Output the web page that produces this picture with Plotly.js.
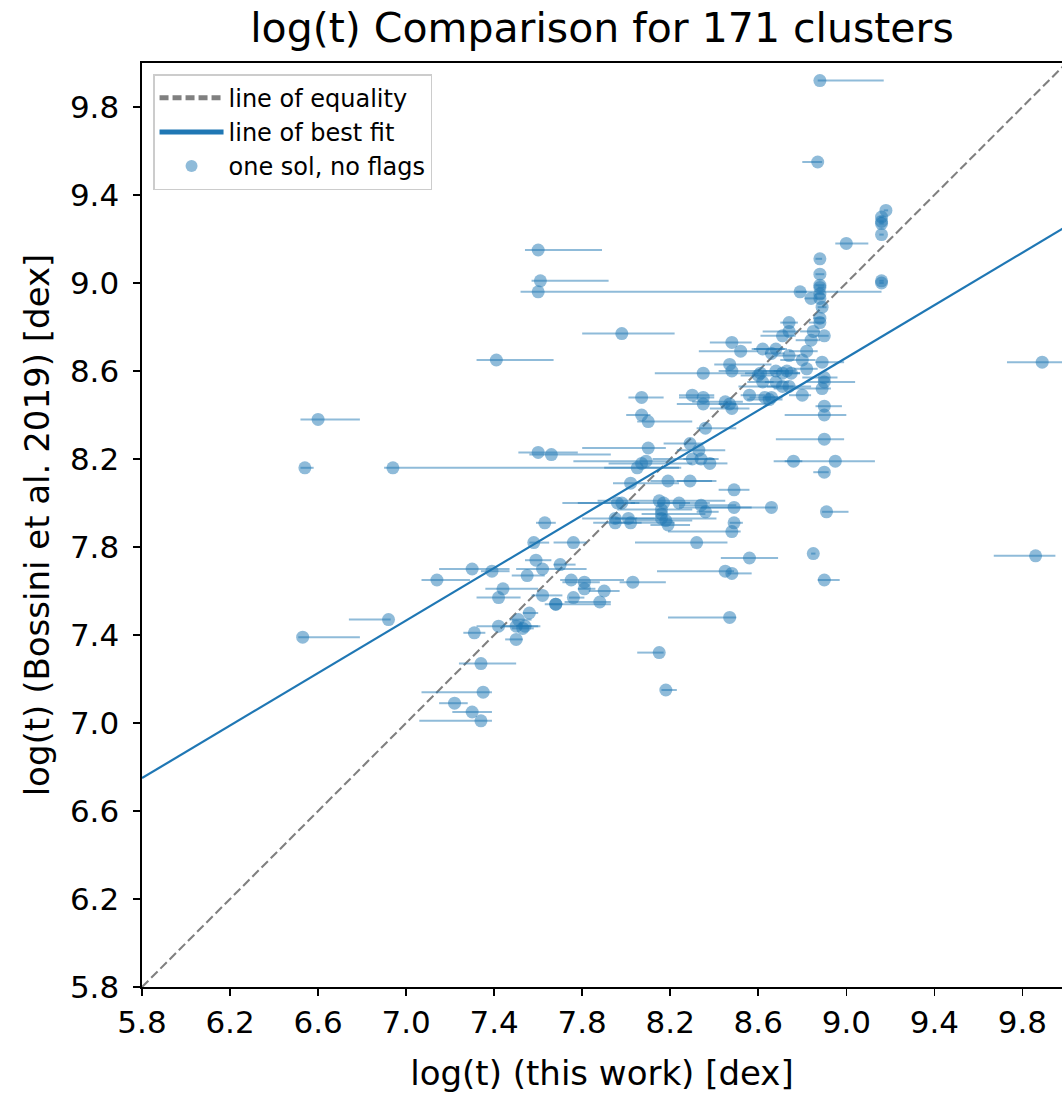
<!DOCTYPE html>
<html>
<head>
<meta charset="utf-8">
<script src="https://cdn.plot.ly/plotly-3.0.1.min.js"></script>
<style>
html,body{margin:0;padding:0;background:#fff;}
#chart{width:1062px;height:1095px;}
</style>
</head>
<body>
<div id="chart"></div>
<script>
// log(t) from this work (x), Bossini et al. 2019 (y), asymmetric x uncertainties
const logtThisWork = [
8.88,8.87,9.18,9.16,9.16,9.16,9.16,9.00,7.60,8.88,
7.61,7.60,9.16,9.16,8.79,8.88,8.88,8.88,8.84,8.88,
8.88,7.98,7.41,9.89,9.86,6.60,6.54,6.94,7.14,6.92,
6.53,7.22,7.35,7.30,7.34,7.34,7.31,7.50,7.51,7.42,
7.50,7.54,7.53,7.56,7.68,7.68,7.76,7.88,7.62,7.42,
7.44,7.90,7.75,7.81,7.81,8.03,7.30,7.39,7.55,7.62,
7.70,7.59,7.58,7.76,7.63,7.95,7.95,8.02,8.01,7.98,
7.96,8.02,8.15,8.17,8.16,8.16,8.16,8.18,8.19,8.24,
8.34,8.36,8.32,8.10,8.29,8.33,8.07,8.09,8.05,8.30,
8.34,8.38,8.19,8.29,8.49,8.49,8.66,8.49,8.48,8.56,
8.45,8.48,8.47,8.15,8.18,8.48,8.52,8.62,8.68,8.66,
8.47,8.48,8.35,8.60,8.62,8.68,8.68,8.07,8.30,8.35,
8.35,8.45,8.47,8.48,8.56,8.63,8.66,8.07,8.10,8.36,
8.74,8.74,8.71,8.85,8.90,8.84,8.82,8.74,8.80,8.89,
8.82,8.61,8.71,8.73,8.75,8.90,8.90,8.89,8.71,8.74,
8.80,8.65,8.90,8.90,8.90,8.76,8.95,8.90,8.91,8.85,
8.90,8.89,8.88,8.88,7.60,7.66
];
const logtBossini = [
9.92,9.55,9.33,9.30,9.28,9.27,9.22,9.18,9.15,9.11,
9.01,8.96,9.01,9.00,8.96,9.04,8.99,8.98,8.93,8.95,
8.93,8.77,8.65,8.64,7.76,8.38,8.16,8.16,7.65,7.47,
7.39,7.09,7.14,7.05,7.01,7.27,7.41,7.38,7.47,7.44,
7.44,7.44,7.43,7.50,7.54,7.54,7.57,7.55,7.58,7.57,
7.61,7.60,7.65,7.64,7.61,7.64,7.70,7.69,7.67,7.70,
7.72,7.74,7.82,7.82,7.91,7.93,7.91,7.91,7.93,8.00,
8.00,8.09,8.01,8.00,7.97,7.95,7.93,7.92,7.90,8.00,
7.99,7.96,7.82,8.25,8.27,8.24,8.18,8.19,8.16,8.20,
8.20,8.18,8.10,8.10,8.06,7.98,7.98,7.91,7.87,7.75,
7.69,7.68,7.48,7.32,7.15,8.73,8.69,8.70,8.70,8.68,
8.63,8.60,8.59,8.58,8.55,8.60,8.55,8.48,8.49,8.48,
8.45,8.46,8.45,8.43,8.49,8.48,8.48,8.40,8.37,8.34,
8.82,8.78,8.76,8.78,8.76,8.74,8.69,8.67,8.65,8.64,
8.61,8.59,8.59,8.60,8.59,8.57,8.55,8.52,8.53,8.53,
8.49,8.47,8.44,8.40,8.29,8.19,8.19,8.14,7.96,7.77,
7.65,8.89,8.84,8.82,8.23,8.22
];
const errMinus = [
0.01,0.07,0.01,0.01,0.01,0.01,0.01,0.05,0.06,0.02,
0.04,0.08,0.01,0.01,0.02,0.02,0.02,0.01,0.03,0.02,
0.01,0.18,0.09,0.16,0.19,0.08,0.02,0.04,0.07,0.18,
0.02,0.07,0.28,0.09,0.28,0.10,0.05,0.05,0.04,0.10,
0.06,0.04,0.05,0.03,0.05,0.03,0.02,0.16,0.05,0.10,
0.08,0.07,0.05,0.10,0.03,0.06,0.15,0.05,0.07,0.12,
0.03,0.05,0.02,0.09,0.04,0.15,0.10,0.08,0.06,0.20,
0.25,0.08,0.28,0.15,0.20,0.09,0.12,0.14,0.08,0.10,
0.10,0.04,0.28,0.30,0.12,0.10,0.15,0.33,0.15,0.18,
0.08,0.06,0.08,0.06,0.07,0.15,0.42,0.02,0.29,0.13,
0.31,0.02,0.28,0.10,0.02,0.10,0.19,0.05,0.10,0.03,
0.07,0.06,0.22,0.08,0.07,0.06,0.05,0.06,0.06,0.11,
0.12,0.15,0.05,0.10,0.04,0.07,0.04,0.07,0.05,0.04,
0.04,0.12,0.10,0.06,0.04,0.07,0.08,0.07,0.10,0.03,
0.06,0.07,0.10,0.06,0.04,0.10,0.08,0.22,0.20,0.10,
0.06,0.10,0.04,0.18,0.22,0.04,0.28,0.05,0.02,0.01,
0.03,0.02,0.03,0.05,0.09,0.10
];
const errPlus = [
0.29,0.02,0.01,0.01,0.01,0.01,0.01,0.10,0.29,0.01,
0.31,1.56,0.01,0.01,0.03,0.02,0.02,0.02,0.03,0.02,
0.02,0.24,0.26,0.10,0.09,0.19,0.04,1.30,0.15,0.01,
0.26,0.06,0.04,0.09,0.05,0.16,0.05,0.03,0.06,0.19,
0.10,0.03,0.05,0.04,0.25,0.03,0.05,0.05,0.09,0.10,
0.16,0.07,0.24,0.07,0.05,0.15,0.17,0.08,0.08,0.20,
0.07,0.07,0.07,0.06,0.05,0.10,0.12,0.20,0.12,0.06,
0.10,0.22,0.30,0.12,0.14,0.20,0.25,0.12,0.10,0.14,
0.16,0.06,0.14,0.08,0.06,0.12,0.23,0.12,0.20,0.10,
0.08,0.08,0.22,0.10,0.07,0.08,0.02,0.04,0.04,0.13,
0.04,0.09,0.03,0.02,0.05,0.09,0.08,0.10,0.05,0.06,
0.19,0.23,0.25,0.07,0.05,0.06,0.06,0.10,0.10,0.05,
0.15,0.08,0.18,0.08,0.07,0.06,0.05,0.04,0.20,0.14,
0.04,0.04,0.06,0.03,0.02,0.04,0.05,0.05,0.06,0.10,
0.05,0.08,0.08,0.04,0.04,0.06,0.14,0.04,0.05,0.10,
0.04,0.06,0.08,0.10,0.09,0.04,0.18,0.02,0.10,0.01,
0.07,0.02,0.02,0.02,0.18,0.27
];
// fitted relation
const fitSlope = 0.597;
const fitIntercept = 3.287;
const axisRange = [5.8, 10.0];
const tickValues = [5.8,6.2,6.6,7.0,7.4,7.8,8.2,8.6,9.0,9.4,9.8];
const tickLabels = ["5.8","6.2","6.6","7.0","7.4","7.8","8.2","8.6","9.0","9.4","9.8"];

const blue = '#1f77b4';
const blueA = 'rgba(31,119,180,0.5)';
const FONT = 'DejaVu Sans, Liberation Sans, sans-serif';

const traces = [
  {
    x: axisRange, y: axisRange, mode: 'lines', name: 'line of equality',
    line: {color: '#808080', width: 2.1, dash: '9px,4px'}, hoverinfo: 'skip'
  },
  {
    x: axisRange, y: axisRange.map(v => fitSlope * v + fitIntercept), mode: 'lines',
    name: 'line of best fit', line: {color: blue, width: 2.2}, hoverinfo: 'skip'
  },
  {
    x: logtThisWork, y: logtBossini, mode: 'markers', type: 'scatter',
    name: 'one sol, no flags',
    marker: {color: blueA, size: 13, line: {width: 0}},
    error_x: {type: 'data', symmetric: false, array: errPlus, arrayminus: errMinus,
              color: blueA, thickness: 2, width: 0}
  }
];

const layout = {
  width: 1062, height: 1095,
  margin: {l: 142, r: 0, t: 63, b: 108, pad: 0},
  paper_bgcolor: '#fff', plot_bgcolor: '#fff',
  font: {family: FONT, color: '#000'},
  title: {text: 'log(t) Comparison for 171 clusters', font: {size: 41, family: FONT},
          x: 0.5, xref: 'paper', xanchor: 'center', y: 1 - 28/1095, yref: 'container', yanchor: 'middle'},
  showlegend: true,
  legend: {x: 0.012, y: 0.988, xanchor: 'left', yanchor: 'top', bgcolor: 'rgba(255,255,255,0.8)',
           bordercolor: '#cccccc', borderwidth: 1.5, font: {size: 24, family: FONT},
           itemsizing: 'constant', itemwidth: 64, tracegroupgap: 0},
  xaxis: {
    range: [5.8, 9.98], tickmode: 'array', tickvals: tickValues, ticktext: tickLabels,
    showgrid: false, zeroline: false, showline: true, mirror: true, linecolor: '#000', linewidth: 1.6,
    ticks: 'outside', ticklen: 7, tickwidth: 1.6, tickcolor: '#000',
    tickfont: {size: 31, family: FONT},
    title: {text: 'log(t) (this work) [dex]', font: {size: 34, family: FONT}, standoff: 22}
  },
  yaxis: {
    range: axisRange, tickmode: 'array', tickvals: tickValues, ticktext: tickLabels,
    showgrid: false, zeroline: false, showline: true, mirror: true, linecolor: '#000', linewidth: 1.6,
    ticks: 'outside', ticklen: 7, tickwidth: 1.6, tickcolor: '#000', ticklabelstandoff: 8,
    tickfont: {size: 31, family: FONT},
    title: {text: 'log(t) (Bossini et al. 2019) [dex]', font: {size: 34, family: FONT}, standoff: 10}
  }
};

Plotly.newPlot('chart', traces, layout, {displayModeBar: false, staticPlot: true});
</script>
</body>
</html>
